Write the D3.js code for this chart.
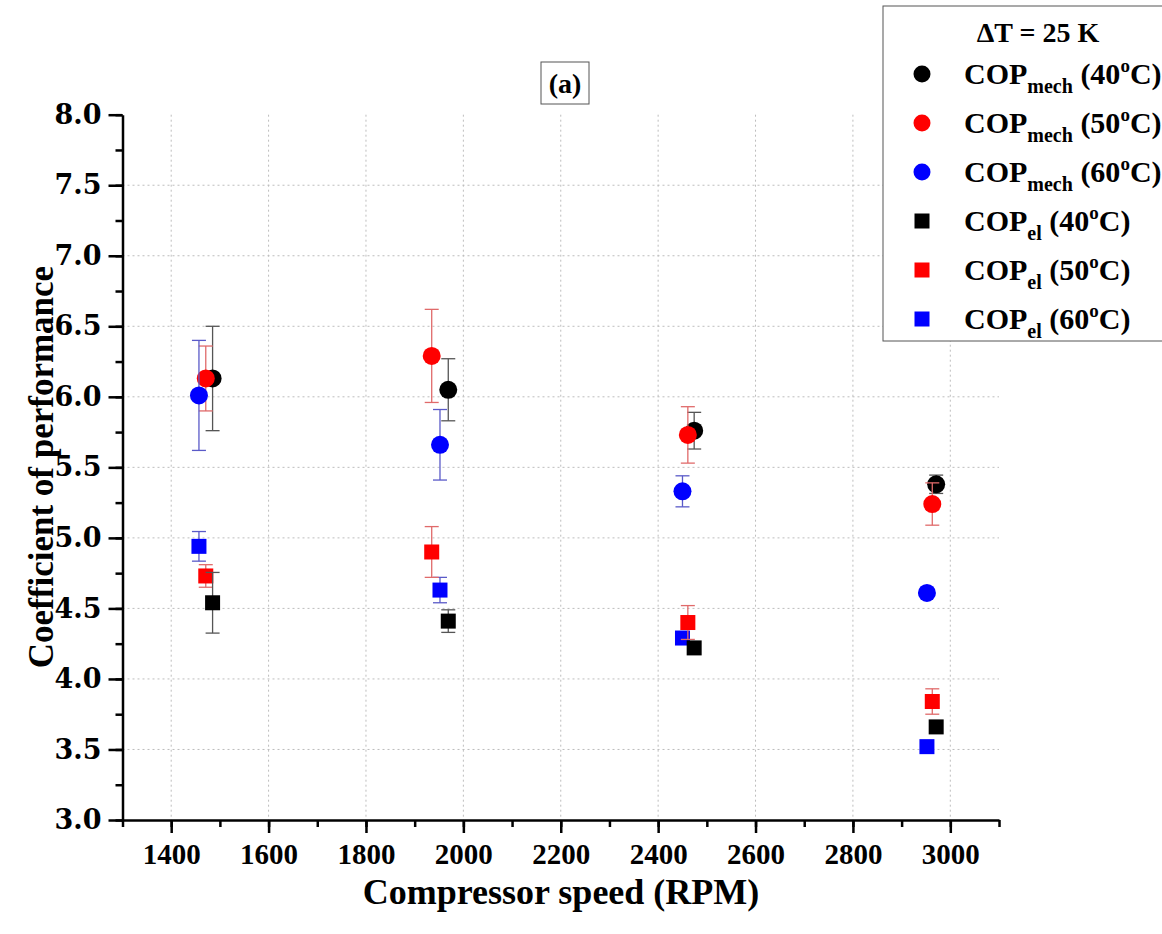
<!DOCTYPE html>
<html>
<head>
<meta charset="utf-8">
<script src="https://cdn.jsdelivr.net/npm/d3@7"></script>
<style>
  body { margin: 0; background: #fff; }
  svg { display: block; }
</style>
</head>
<body>
<svg id="chart" width="1162" height="934"></svg>
<script>
// values (dT = 25 K)
const rpm40 = [1485, 1969, 2474, 2971]
const rpm50 = [1471, 1935, 2461, 2963]
const rpm60 = [1457, 1952, 2450, 2952]

const copMech40 = [6.13, 6.05, 5.76, 5.38]
const copMech50 = [6.13, 6.29, 5.73, 5.24]
const copMech60 = [6.01, 5.66, 5.33, 4.61]
const copEl40 = [4.54, 4.41, 4.22, 3.66]
const copEl50 = [4.73, 4.90, 4.40, 3.84]
const copEl60 = [4.94, 4.63, 4.29, 3.52]

const errMech40 = [0.37, 0.22, 0.13, 0.065]
const errMech50 = [0.23, 0.33, 0.20, 0.15]
const errMech60 = [0.39, 0.25, 0.11, 0]
const errEl40 = [0.215, 0.08, 0, 0]
const errEl50 = [0.08, 0.18, 0.12, 0.09]
const errEl60 = [0.105, 0.09, 0, 0]

const xTicks = [1400, 1600, 1800, 2000, 2200, 2400, 2600, 2800, 3000]
const yTicks = [3.0, 3.5, 4.0, 4.5, 5.0, 5.5, 6.0, 6.5, 7.0, 7.5, 8.0]

const serif = "'Liberation Serif', 'Times New Roman', serif"

// draw order follows the original: circles 40->60, then squares 60->40
const series = [
	{rpm: rpm40, cop: copMech40, err: errMech40, color: '#000000', errColor: '#555555', shape: 'circle'},
	{rpm: rpm50, cop: copMech50, err: errMech50, color: '#ff0000', errColor: '#e06a6a', shape: 'circle'},
	{rpm: rpm60, cop: copMech60, err: errMech60, color: '#0000ff', errColor: '#5a5ac8', shape: 'circle'},
	{rpm: rpm60, cop: copEl60, err: errEl60, color: '#0000ff', errColor: '#5a5ac8', shape: 'square'},
	{rpm: rpm50, cop: copEl50, err: errEl50, color: '#ff0000', errColor: '#e06a6a', shape: 'square'},
	{rpm: rpm40, cop: copEl40, err: errEl40, color: '#000000', errColor: '#555555', shape: 'square'},
]

const legendItems = [
	{main: 'COP', sub: 'mech', temp: '40', color: '#000000', shape: 'circle'},
	{main: 'COP', sub: 'mech', temp: '50', color: '#ff0000', shape: 'circle'},
	{main: 'COP', sub: 'mech', temp: '60', color: '#0000ff', shape: 'circle'},
	{main: 'COP', sub: 'el', temp: '40', color: '#000000', shape: 'square'},
	{main: 'COP', sub: 'el', temp: '50', color: '#ff0000', shape: 'square'},
	{main: 'COP', sub: 'el', temp: '60', color: '#0000ff', shape: 'square'},
]

const svg = d3.select('#chart')
const plotLeft = 122.5, plotRight = 999, plotTop = 114.7, plotBottom = 820

const x = d3.scaleLinear().domain([1300, 3100]).range([plotLeft, plotRight])
const y = d3.scaleLinear().domain([3, 8]).range([plotBottom, plotTop])

// dotted grid
svg.append('g')
	.selectAll('line')
	.data(xTicks)
	.join('line')
	.attr('x1', d => x(d)).attr('x2', d => x(d))
	.attr('y1', plotTop).attr('y2', plotBottom)
	.style('stroke', '#bdbdbd')
	.style('stroke-width', 1)
	.style('stroke-dasharray', '2,3')
svg.append('g')
	.selectAll('line')
	.data(yTicks.filter(d => d > 3 && d < 8))
	.join('line')
	.attr('x1', plotLeft).attr('x2', plotRight)
	.attr('y1', d => y(d)).attr('y2', d => y(d))
	.style('stroke', '#bdbdbd')
	.style('stroke-width', 1)
	.style('stroke-dasharray', '2,3')

// minor ticks
svg.append('g')
	.attr('transform', `translate(0,${plotBottom})`)
	.call(d3.axisBottom(x).tickValues(d3.range(1300, 3101, 100)).tickSize(7).tickSizeOuter(0).tickFormat(''))
	.call(g => g.select('.domain').remove())
	.call(g => g.selectAll('line').style('stroke', '#000').style('stroke-width', 2.5))
svg.append('g')
	.attr('transform', `translate(${plotLeft},0)`)
	.call(d3.axisLeft(y).tickValues(d3.range(3, 8.01, 0.25)).tickSize(7).tickSizeOuter(0).tickFormat(''))
	.call(g => g.select('.domain').remove())
	.call(g => g.selectAll('line').style('stroke', '#000').style('stroke-width', 2.5))

// major axes
let xAxis = svg.append('g')
	.attr('transform', `translate(0,${plotBottom})`)
	.call(d3.axisBottom(x).tickValues(xTicks).tickSize(13).tickSizeOuter(0).tickFormat(d3.format('d')))
xAxis.select('.domain').style('stroke', '#000').style('stroke-width', 2.5)
xAxis.selectAll('line').style('stroke', '#000').style('stroke-width', 2.5)
xAxis.selectAll('text')
	.attr('y', 44).attr('dy', 0)
	.style('font-family', serif)
	.style('font-weight', 'bold')
	.style('font-size', '29px')
	.style('fill', '#000')

let yAxis = svg.append('g')
	.attr('transform', `translate(${plotLeft},0)`)
	.call(d3.axisLeft(y).tickValues(yTicks).tickSize(14).tickSizeOuter(0).tickFormat(d3.format('.1f')))
yAxis.select('.domain').style('stroke', '#000').style('stroke-width', 2.5)
yAxis.selectAll('line').style('stroke', '#000').style('stroke-width', 2.5)
yAxis.selectAll('text')
	.attr('x', -21)
	.style('font-family', "'DejaVu Serif', serif")
	.style('font-weight', 'bold')
	.style('font-size', '27px')
	.style('fill', '#000')

// axis titles
svg.append('text')
	.attr('x', 561).attr('y', 904)
	.attr('text-anchor', 'middle')
	.style('font-family', serif)
	.style('font-weight', 'bold')
	.style('font-size', '36px')
	.text('Compressor speed (RPM)')
svg.append('text')
	.attr('transform', 'translate(53,467) rotate(-90)')
	.attr('text-anchor', 'middle')
	.style('font-family', serif)
	.style('font-weight', 'bold')
	.style('font-size', '35px')
	.text('Coefficient of performance')

// panel label
svg.append('rect')
	.attr('x', 541).attr('y', 62).attr('width', 48).attr('height', 42)
	.style('fill', 'none').style('stroke', '#555').style('stroke-width', 1)
svg.append('text')
	.attr('x', 565).attr('y', 93)
	.attr('text-anchor', 'middle')
	.style('font-family', serif)
	.style('font-weight', 'bold')
	.style('font-size', '28px')
	.text('(a)')

// data
let plot = svg.append('g')
series.forEach(s => {
	let pts = s.rpm.map((r, i) => ({r: r, c: s.cop[i], e: s.err[i]}))
	let g = plot.append('g')
	pts.filter(p => p.e > 0).forEach(p => {
		let cx = x(p.r)
		g.append('line')
			.attr('x1', cx).attr('x2', cx)
			.attr('y1', y(p.c - p.e)).attr('y2', y(p.c + p.e))
			.style('stroke', s.errColor).style('stroke-width', 1.3)
		;[p.c - p.e, p.c + p.e].forEach(v => {
			g.append('line')
				.attr('x1', cx - 7).attr('x2', cx + 7)
				.attr('y1', y(v)).attr('y2', y(v))
				.style('stroke', s.errColor).style('stroke-width', 1.3)
		})
	})
	if (s.shape === 'circle') {
		g.selectAll('circle')
			.data(pts)
			.join('circle')
			.attr('cx', d => x(d.r))
			.attr('cy', d => y(d.c))
			.attr('r', 9)
			.style('fill', s.color)
	} else {
		g.selectAll('rect')
			.data(pts)
			.join('rect')
			.attr('x', d => x(d.r) - 7.5)
			.attr('y', d => y(d.c) - 7.5)
			.attr('width', 15).attr('height', 15)
			.style('fill', s.color)
	}
})

// legend
let legend = svg.append('g')
legend.append('rect')
	.attr('x', 883).attr('y', 6).attr('width', 300).attr('height', 335)
	.style('fill', '#fff').style('stroke', '#555').style('stroke-width', 1)
legend.append('text')
	.attr('x', 1038).attr('y', 42)
	.attr('text-anchor', 'middle')
	.style('font-family', serif)
	.style('font-weight', 'bold')
	.style('font-size', '28px')
	.text('\u0394T = 25 K')

legendItems.forEach((item, i) => {
	let cy = 74 + i * 49
	if (item.shape === 'circle') {
		legend.append('circle').attr('cx', 922).attr('cy', cy).attr('r', 8.5).style('fill', item.color)
	} else {
		legend.append('rect').attr('x', 914.5).attr('y', cy - 7.5).attr('width', 15).attr('height', 15).style('fill', item.color)
	}
	let t = legend.append('text')
		.attr('x', 964).attr('y', cy + 10)
		.style('font-family', serif)
		.style('font-weight', 'bold')
		.style('font-size', '30px')
	t.append('tspan').text(item.main)
	t.append('tspan').attr('dy', 9).style('font-size', '20px').text(item.sub)
	t.append('tspan').attr('dy', -9).text(' (' + item.temp)
	t.append('tspan').attr('dy', -12).style('font-size', '19px').text('o')
	t.append('tspan').attr('dy', 12).text('C)')
})
</script>
</body>
</html>
